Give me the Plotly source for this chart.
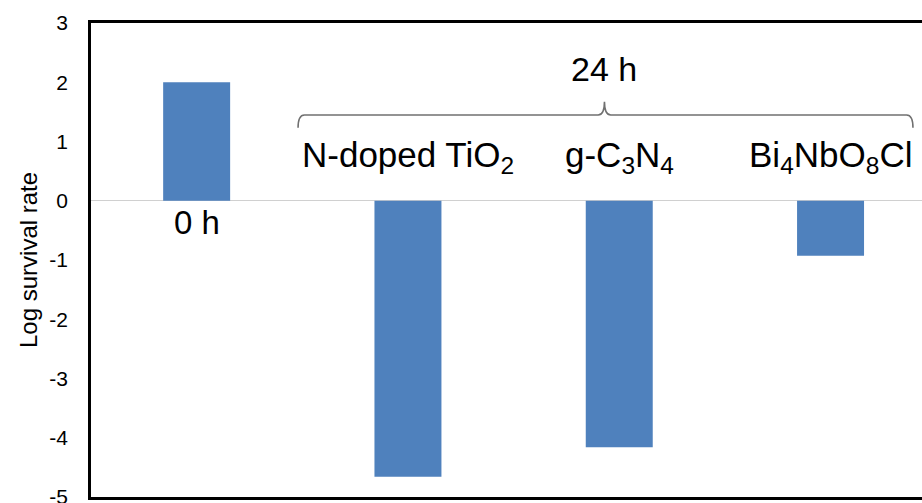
import plotly.graph_objects as go

categories = ["0 h", "N-doped TiO2", "g-C3N4", "Bi4NbO8Cl"]
log_survival = [2.0, -4.66, -4.16, -0.93]
label_texts = ["0 h", "N-doped TiO<sub>2</sub>", "g-C<sub>3</sub>N<sub>4</sub>", "Bi<sub>4</sub>NbO<sub>8</sub>Cl"]
y_ticks = [3, 2, 1, 0, -1, -2, -3, -4, -5]
y_tick_text = ["3", "2", "1", "0", "-1", "-2", "-3", "-4", "-5"]
group_label = "24 h"
y_title = "Log survival rate"

FONT = "Liberation Sans, Arial, sans-serif"
W, H = 922, 503
ML, MR, MT, MB = 91, 0, 23, 6
plot_w = W - ML - MR
cat_px = 211.3
x_range = [-0.5, -0.5 + plot_w / cat_px]

fig = go.Figure()
fig.add_trace(go.Bar(
    x=categories, y=log_survival, width=0.317,
    marker=dict(color="#4F81BD", line=dict(width=0)),
    showlegend=False, hoverinfo="skip",
))

ann = []
ann.append(dict(x=categories[0], y=-0.36, xref="x", yref="y", text=label_texts[0],
                showarrow=False, font=dict(size=33, color="black", family=FONT),
                xanchor="center", yanchor="middle"))
for c, t in zip(categories[1:], label_texts[1:]):
    ann.append(dict(x=c, y=0.74, xref="x", yref="y", text=t, showarrow=False,
                    font=dict(size=35, color="black", family=FONT),
                    xanchor="center", yanchor="middle"))
ann.append(dict(x=1.93, y=2.22, xref="x", yref="y", text=group_label, showarrow=False,
                font=dict(size=34, color="black", family=FONT),
                xanchor="center", yanchor="middle"))
ann.append(dict(x=-(ML - 28) / plot_w, y=0.5, xref="paper", yref="paper", text=y_title,
                textangle=-90, showarrow=False,
                font=dict(size=24, color="black", family=FONT),
                xanchor="center", yanchor="middle"))

# curly brace over the 24 h group
xl, xr, xc = 0.48, 3.39, 1.93
yb, yl, yp = 1.23, 1.447, 1.67
brace = (f"M {xl},{yb} Q {xl},{yl} {xl+0.03},{yl} L {xc-0.03},{yl} "
         f"Q {xc},{yl} {xc},{yp} Q {xc},{yl} {xc+0.03},{yl} "
         f"L {xr-0.03},{yl} Q {xr},{yl} {xr},{yb}")
fig.add_shape(type="path", path=brace, xref="x", yref="y",
              line=dict(color="#707070", width=1.6))

fig.update_layout(
    width=W, height=H,
    margin=dict(l=ML, r=MR, t=MT, b=MB, autoexpand=False),
    paper_bgcolor="white", plot_bgcolor="white",
    font=dict(family=FONT, color="black"),
    annotations=ann,
    xaxis=dict(range=x_range, showticklabels=False, showgrid=False, ticks="",
               showline=True, linecolor="black", linewidth=3, mirror=True,
               zeroline=False, fixedrange=True, automargin=False),
    yaxis=dict(range=[-5, 3], tickvals=y_ticks, ticktext=y_tick_text, ticks="",
               showgrid=False,
               showline=True, linecolor="black", linewidth=2.5, mirror=False,
               zeroline=True, zerolinecolor="#d0d0d0", zerolinewidth=1,
               tickfont=dict(size=21, color="black", family=FONT),
               ticklabelstandoff=16, ticklabeloverflow="allow", fixedrange=True,
               automargin=False),
)

fig.write_html(
    "out.html",
    config={"displayModeBar": False},
    post_script="document.body.style.margin='0';document.body.style.overflow='hidden';",
)
